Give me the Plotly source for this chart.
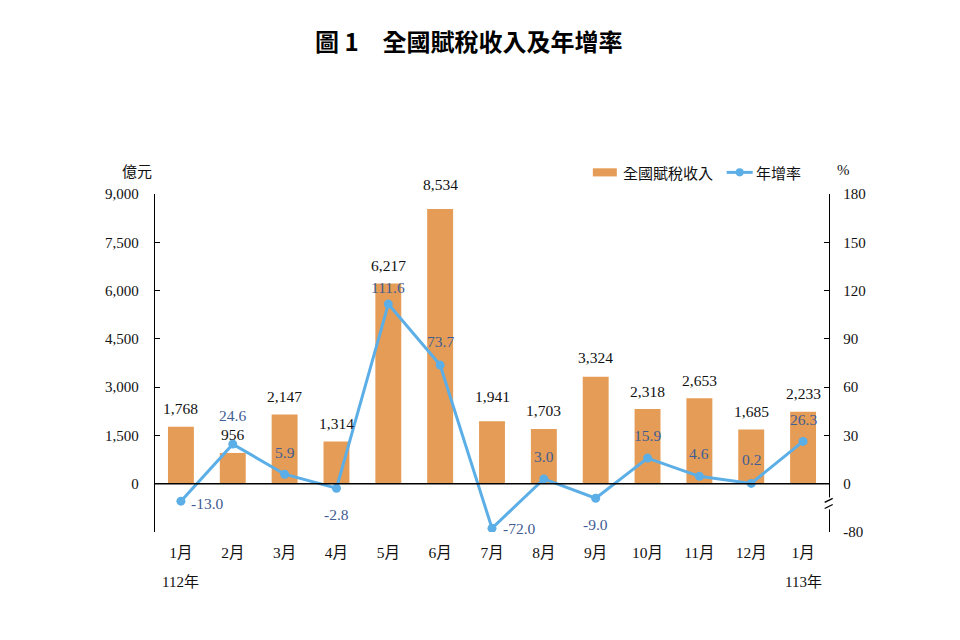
import plotly.graph_objects as go

# ---- data ----
months = ["1月", "2月", "3月", "4月", "5月", "6月", "7月", "8月", "9月", "10月", "11月", "12月", "1月"]
year_labels = {0: "112年", 12: "113年"}
revenue = [1768, 956, 2147, 1314, 6217, 8534, 1941, 1703, 3324, 2318, 2653, 1685, 2233]   # 億元
growth = [-13.0, 24.6, 5.9, -2.8, 111.6, 73.7, -72.0, 3.0, -9.0, 15.9, 4.6, 0.2, 26.3]   # %
left_ticks = [0, 1500, 3000, 4500, 6000, 7500, 9000]
right_ticks = [-80, 0, 30, 60, 90, 120, 150, 180]

title_text = "<b>圖 1\u3000全國賦稅收入及年增率</b>"
bar_name = "全國賦稅收入"
line_name = "年增率"

# ---- styles ----
BAR_COLOR = "#E59C56"
LINE_COLOR = "#5CAEE6"
LABEL_BLUE = "#3F5C93"
SERIF = "Times New Roman, Liberation Serif, Noto Sans CJK TC, serif"
CJK = "Noto Sans CJK TC, Liberation Serif, serif"

# broken right axis: values below BREAK_AT compressed so -80 sits at display -30
BREAK_AT = -10.0
AXIS_MIN_REAL = -80.0
AXIS_MIN_DISPLAY = -30.0


def to_display(v):
    if v >= BREAK_AT:
        return v
    return BREAK_AT + (v - BREAK_AT) * (AXIS_MIN_DISPLAY - BREAK_AT) / (AXIS_MIN_REAL - BREAK_AT)


x = list(range(len(months)))
growth_disp = [to_display(v) for v in growth]

fig = go.Figure()
fig.add_trace(go.Bar(x=x, y=revenue, marker=dict(color=BAR_COLOR, line=dict(width=0)),
                     name=bar_name, showlegend=False, hoverinfo="skip"))
fig.add_trace(go.Scatter(x=x, y=growth_disp, yaxis="y2", mode="lines+markers",
                         line=dict(color=LINE_COLOR, width=3),
                         marker=dict(color=LINE_COLOR, size=9),
                         name=line_name, showlegend=False, hoverinfo="skip"))

annotations = []
# bar value labels
bar_shift = [18, 18, 18, 18, 18, 25, 25, 18, 19, 18, 18, 18, 18]
for i, v in enumerate(revenue):
    annotations.append(dict(x=i, y=v, xref="x", yref="y", text=f"{v:,}", showarrow=False,
                            yanchor="middle", yshift=bar_shift[i],
                            font=dict(family=SERIF, size=15.5, color="#111111")))
# growth labels
g_xshift = [27, 0, 0, 0, 0, 0, 27, 0, 0, 0, 0, 0, 0]
g_yshift = [-2, 29, 22, -26, 17, 24, 0, 22, -26, 23, 23, 24, 22]
for i, v in enumerate(growth):
    annotations.append(dict(x=i, y=growth_disp[i], xref="x", yref="y2", text=f"{v:.1f}",
                            showarrow=False, yanchor="middle", xshift=g_xshift[i], yshift=g_yshift[i],
                            font=dict(family=SERIF, size=15.5, color=LABEL_BLUE)))
# year labels under the month ticks
for i, t in year_labels.items():
    annotations.append(dict(x=i, y=-0.149, xref="x", yref="paper", text=t, showarrow=False,
                            yanchor="middle", font=dict(family=SERIF, size=15, color="#111111")))
# axis unit labels
annotations.append(dict(x=-0.052, y=1.07, xref="paper", yref="paper", text="億元", showarrow=False,
                        yanchor="middle", font=dict(family=CJK, size=15, color="#111111")))
annotations.append(dict(x=1.034, y=1.07, xref="paper", yref="paper", text="%", showarrow=False,
                        yanchor="middle", font=dict(family=SERIF, size=15, color="#111111")))
# title
annotations.append(dict(x=0.4657, y=1.454, xref="paper", yref="paper", text=title_text, showarrow=False,
                        yanchor="middle", font=dict(family=CJK, size=24, color="#000000")))
# legend texts
annotations.append(dict(x=0.691, y=1.064, xref="paper", yref="paper", text=bar_name, showarrow=False,
                        xanchor="left", yanchor="middle", font=dict(family=CJK, size=15, color="#111111")))
annotations.append(dict(x=0.888, y=1.064, xref="paper", yref="paper", text=line_name, showarrow=False,
                        xanchor="left", yanchor="middle", font=dict(family=CJK, size=15, color="#111111")))

shapes = [
    # zero line
    dict(type="line", xref="paper", yref="y", x0=0, x1=1, y0=0, y1=0,
         line=dict(color="black", width=1.5), layer="above"),
    # axis break on right axis
    dict(type="rect", xref="paper", yref="y2", x0=0.99, x1=1.01, y0=-8.5, y1=-16,
         fillcolor="white", line=dict(width=0), layer="above"),
    dict(type="line", xref="paper", yref="y2", x0=0.9936, x1=1.0055, y0=-11.6, y1=-9.1,
         line=dict(color="black", width=1.3), layer="above"),
    dict(type="line", xref="paper", yref="y2", x0=0.9936, x1=1.0055, y0=-15.4, y1=-12.9,
         line=dict(color="black", width=1.3), layer="above"),
    # legend symbols
    dict(type="rect", xref="paper", yref="paper", x0=0.6496, x1=0.6852, y0=1.052, y1=1.076,
         fillcolor=BAR_COLOR, line=dict(width=0)),
    dict(type="line", xref="paper", yref="paper", x0=0.8482, x1=0.8868, y0=1.064, y1=1.064,
         line=dict(color=LINE_COLOR, width=3)),
    dict(type="circle", xref="paper", yref="paper", x0=0.8616, x1=0.8734, y0=1.052, y1=1.076,
         fillcolor=LINE_COLOR, line=dict(width=0)),
]

fig.update_layout(
    width=960, height=640,
    margin=dict(l=155, r=131, t=194, b=108),
    paper_bgcolor="white", plot_bgcolor="white",
    bargap=0.5,
    xaxis=dict(tickvals=x, ticktext=months, range=[-0.5, len(months) - 0.5],
               showline=False, showgrid=False, zeroline=False, ticks="",
               tickfont=dict(family=SERIF, size=15.5, color="#111111"), ticklabelstandoff=9),
    yaxis=dict(range=[-1500, 9000], tickvals=[-1500] + left_ticks,
               ticktext=[""] + [f"{t:,}" for t in left_ticks],
               showline=True, linecolor="black", linewidth=1.3, ticks="inside", ticklen=5,
               tickcolor="black", showgrid=False, zeroline=False,
               tickfont=dict(family=SERIF, size=15, color="#111111"), ticklabelstandoff=12),
    yaxis2=dict(range=[AXIS_MIN_DISPLAY, 180], overlaying="y", side="right",
                tickvals=[to_display(t) for t in right_ticks], ticktext=[str(t) for t in right_ticks],
                showline=True, linecolor="black", linewidth=1.3, ticks="inside", ticklen=5,
                tickcolor="black", showgrid=False, zeroline=False,
                tickfont=dict(family=SERIF, size=15, color="#111111"), ticklabelstandoff=10),
    annotations=annotations,
    shapes=shapes,
    showlegend=False,
)

fig.write_html("out.html")
